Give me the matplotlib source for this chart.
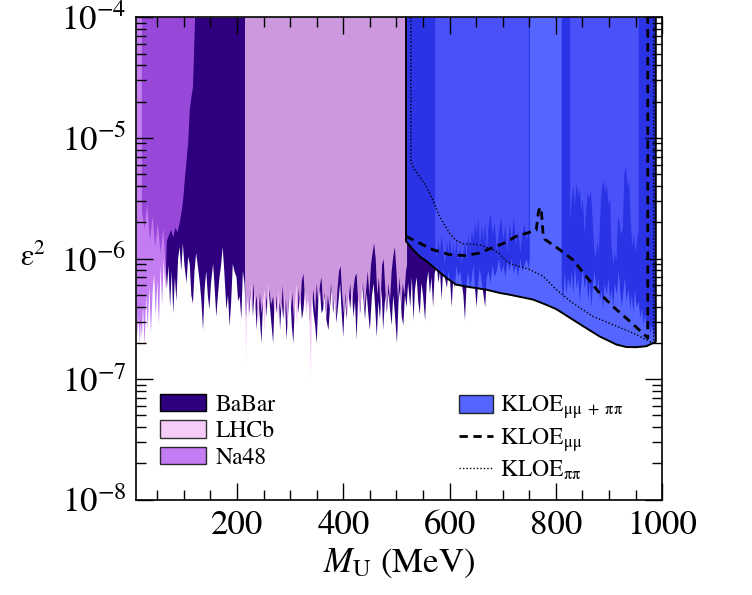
import matplotlib
matplotlib.use('Agg')
import matplotlib.pyplot as plt
import matplotlib.ticker as ticker
from matplotlib.patches import Patch
from matplotlib.lines import Line2D

plt.rcParams['font.family'] = 'serif'
plt.rcParams['font.serif'] = ['STIXGeneral', 'Liberation Serif', 'DejaVu Serif']
plt.rcParams['mathtext.fontset'] = 'stix'

# lower edges of the excluded regions: (mass in MeV, log10 eps^2)
na48_edge = [(10, -6.45), (12, -6.62), (14, -6.48), (16, -6.70), (18, -6.52), (20, -6.66),
             (22, -6.38), (25, -6.72), (28, -6.30), (31, -6.58), (34, -6.22), (37, -6.62),
             (40, -6.28), (43, -6.12), (46, -6.48), (49, -6.18), (52, -6.55), (55, -6.05),
             (58, -6.38), (61, -6.00), (64, -6.25), (67, -5.85), (71, -5.80), (75, -5.76),
             (79, -5.82), (83, -5.74), (87, -5.78), (91, -5.70), (95, -5.60), (98, -5.49),
             (101, -5.32), (104, -5.18), (107, -5.04), (110, -4.77), (113, -4.66),
             (116, -4.58), (118, -4.30), (120, -4.00)]

babar_edge1 = [(20, -5.60), (25, -5.75), (30, -5.55), (35, -5.85), (40, -5.65), (45, -5.90),
               (50, -5.70), (55, -5.95), (60, -5.75), (64, -6.00), (67, -6.25), (70, -6.05),
               (73, -6.40), (76, -6.10), (79, -6.45), (82, -6.15), (85, -6.35), (88, -6.00),
               (91, -5.90), (94, -6.10), (97, -5.87), (100, -6.05), (104, -6.20), (107, -5.98),
               (110, -6.04), (113, -6.30), (116, -6.37), (119, -6.10), (122, -5.95), (125, -6.05),
               (129, -6.20), (132, -6.35), (135, -6.59), (138, -6.25), (141, -6.10), (144, -6.30),
               (147, -6.42), (150, -6.20), (154, -6.04), (157, -6.25), (160, -6.48), (163, -6.30),
               (166, -6.15), (169, -6.05), (172, -5.90), (175, -6.10), (179, -6.42), (182, -6.30),
               (185, -6.56), (188, -6.35), (191, -6.04), (194, -6.10), (198, -6.15), (201, -6.35),
               (204, -6.31), (207, -6.50), (210, -6.10), (213, -6.20),
               (216, -6.50), (219, -6.30), (222, -6.45), (226, -6.20), (229, -6.48), (232, -6.25),
               (236, -6.59), (239, -6.30), (242, -6.50), (245, -6.70), (248, -6.35), (251, -6.25),
               (254, -6.48), (258, -6.20), (261, -6.40), (264, -6.55), (267, -6.70), (270, -6.30),
               (274, -6.45), (277, -6.25), (280, -6.59), (283, -6.35), (286, -6.50), (289, -6.30),
               (292, -6.67), (296, -6.40), (299, -6.25), (302, -6.55), (305, -6.70), (308, -6.35),
               (311, -6.20), (314, -6.45), (318, -6.30), (321, -6.50), (324, -6.42), (327, -6.25),
               (330, -6.40), (333, -6.28), (336, -6.53), (340, -6.30), (343, -6.45), (346, -6.55),
               (349, -6.70), (352, -6.35), (355, -6.25), (358, -6.45), (361, -6.42), (364, -6.30),
               (367, -6.50), (371, -6.59), (374, -6.40), (377, -6.25), (380, -6.45), (383, -6.30),
               (386, -6.53), (390, -6.35), (393, -6.20), (396, -6.45), (399, -6.65), (402, -6.30),
               (405, -6.50), (409, -6.28), (412, -6.42), (415, -6.25), (418, -6.48), (421, -6.35),
               (424, -6.67), (427, -6.30), (431, -6.45), (434, -6.20), (437, -6.34), (440, -6.50),
               (443, -6.28), (446, -6.45), (449, -6.59), (453, -6.30), (456, -6.20), (459, -6.40),
               (462, -6.65), (465, -6.35), (468, -6.50), (471, -6.25), (474, -6.59), (478, -6.30),
               (481, -6.45), (484, -6.28), (487, -6.42), (490, -6.55), (493, -6.30), (496, -6.45),
               (500, -6.70), (503, -6.35), (506, -6.25), (509, -6.48), (512, -6.55), (515, -6.30),
               (518, -6.40), (521, -6.20), (525, -6.40), (528, -6.15), (531, -6.51), (534, -6.25),
               (537, -6.15), (540, -6.35), (543, -6.46), (546, -6.20), (549, -6.30), (553, -6.51),
               (556, -6.20), (559, -6.10), (562, -6.29), (565, -6.15), (568, -6.40), (571, -6.12),
               (575, -6.05), (578, -6.20), (581, -6.10), (584, -6.34), (587, -6.08), (590, -6.15),
               (594, -6.24), (597, -6.10), (600, -6.18), (603, -6.40), (606, -6.15), (609, -6.24),
               (612, -6.05), (615, -6.15), (619, -6.10), (622, -6.20), (625, -6.30), (628, -6.51),
               (631, -6.20), (634, -6.10), (638, -6.25), (641, -6.15), (644, -6.05), (647, -6.25),
               (650, -6.40), (653, -6.18), (656, -6.08), (660, -6.20), (663, -6.30), (666, -6.40),
               (669, -6.15), (672, -6.10), (676, -6.20), (680, -6.05), (684, -6.15), (688, -6.10),
               (692, -6.00), (696, -6.12), (700, -6.05), (704, -6.15), (708, -6.02), (712, -6.10),
               (716, -6.00), (720, -6.12), (724, -6.05), (728, -6.15), (732, -6.00), (736, -6.10),
               (740, -6.05), (744, -6.00), (748, -6.08), (750, -6.00)]

babar_edge2 = [(810, -6.20), (813, -6.35), (816, -6.10), (819, -6.30), (822, -6.15), (826, -6.25),
               (829, -6.10), (832, -6.30), (835, -6.05), (838, -6.25), (841, -6.15), (844, -6.35),
               (847, -6.20), (850, -6.08), (853, -6.25), (857, -6.15), (860, -6.35), (863, -6.20),
               (866, -6.40), (869, -6.22), (872, -6.10), (876, -6.30), (879, -6.15), (882, -6.35),
               (885, -6.25), (888, -6.42), (891, -6.20), (895, -6.30), (898, -6.15), (901, -6.35),
               (904, -6.25), (907, -6.40), (910, -6.20), (914, -6.30), (917, -6.10), (920, -6.25),
               (923, -6.40), (926, -6.28), (929, -6.15), (932, -6.35), (936, -6.25), (939, -6.42),
               (942, -6.30), (945, -6.45), (948, -6.25), (951, -6.40), (955, -6.35), (958, -6.50),
               (961, -6.40), (964, -6.55), (967, -6.45), (970, -6.60), (974, -6.50), (977, -6.62),
               (980, -6.55), (984, -6.65), (987, -6.60)]

lhcb_edge1 = [(214, -6.10), (216, -6.85), (218, -6.30), (221, -6.50), (224, -6.25), (227, -6.45),
              (230, -6.20), (233, -6.40), (236, -6.30), (239, -6.55), (242, -6.28), (245, -6.45),
              (248, -6.35), (251, -6.60), (254, -6.30), (257, -6.42), (260, -6.25), (263, -6.38),
              (267, -6.31), (270, -6.48), (273, -6.30), (276, -6.52), (279, -6.36), (282, -6.44),
              (285, -6.22), (288, -6.50), (291, -6.33), (294, -6.58), (297, -6.30), (300, -6.45),
              (303, -6.28), (306, -6.50), (309, -6.35), (312, -6.55), (315, -6.25), (318, -6.40),
              (321, -6.18), (324, -6.12), (327, -6.35), (330, -6.48), (333, -6.30), (336, -6.60),
              (338, -6.98), (340, -6.40), (343, -6.25), (346, -6.45), (349, -6.20), (352, -6.38),
              (355, -6.22), (358, -6.15), (361, -6.40), (364, -6.28), (367, -6.50), (370, -6.30),
              (373, -6.42), (376, -6.20), (379, -6.45), (382, -6.30), (385, -6.52), (388, -6.25),
              (391, -6.10), (394, -6.06), (397, -6.30), (400, -6.45), (403, -6.28), (406, -6.50),
              (409, -6.35), (412, -6.20), (415, -6.40), (418, -6.25), (421, -6.15), (424, -6.12),
              (427, -6.35), (430, -6.48), (433, -6.30), (436, -6.20), (439, -6.42), (442, -6.25),
              (445, -6.10), (448, -6.30), (451, -6.05), (454, -5.95), (457, -5.87), (460, -6.00),
              (463, -6.30), (466, -6.15), (469, -6.40), (472, -6.05), (475, -6.00), (478, -6.25),
              (481, -6.45), (484, -6.20), (487, -6.35), (490, -6.10), (493, -5.98), (496, -5.90),
              (499, -6.10), (502, -6.35), (505, -6.15), (508, -6.40), (511, -6.20), (514, -6.30),
              (517, -6.10), (519, -6.05)]

lhcb_edge2 = [(572, -5.90), (575, -6.00), (578, -5.85), (581, -5.95), (584, -5.80), (587, -5.92),
              (590, -6.05), (594, -5.85), (597, -5.95), (600, -5.82), (603, -6.00), (606, -5.88),
              (609, -5.98), (612, -5.85), (615, -6.02), (619, -5.90), (622, -6.05), (625, -5.95),
              (628, -5.85), (631, -6.00), (634, -5.80), (638, -5.92), (641, -5.75), (644, -5.85),
              (647, -5.70), (650, -5.80), (653, -5.65), (656, -5.90), (660, -5.72), (663, -5.85),
              (666, -5.68), (669, -5.95), (672, -5.75), (676, -5.62), (680, -5.80), (684, -5.70),
              (688, -5.95), (692, -5.78), (696, -5.65), (700, -5.85), (704, -5.72), (708, -5.95),
              (712, -5.70), (716, -5.85), (720, -5.65), (724, -5.90), (728, -5.75), (732, -5.95),
              (736, -5.80), (740, -5.70), (744, -5.85), (748, -5.75)]

lhcb_edge3 = [(826, -5.70), (829, -5.50), (832, -5.40), (835, -5.55), (838, -5.37), (841, -5.48),
              (844, -5.42), (847, -5.60), (850, -5.50), (853, -5.80), (856, -5.60), (859, -5.45),
              (862, -5.50), (865, -5.43), (868, -5.65), (871, -5.90), (874, -6.00), (877, -5.85),
              (880, -5.95), (883, -5.60), (886, -5.40), (889, -5.35), (892, -5.45), (895, -5.38),
              (898, -5.55), (901, -5.50), (904, -5.90), (907, -6.05), (910, -5.95), (913, -6.02),
              (916, -5.65), (919, -5.70), (922, -5.80), (925, -5.75), (928, -5.30), (931, -5.23),
              (934, -5.40), (937, -5.35), (940, -5.70), (943, -5.90), (946, -5.80), (949, -5.95),
              (952, -5.85), (955, -5.75)]

kloe_edge = [(518, -5.857), (531, -5.926), (543, -5.98), (556, -6.02), (575, -6.09), (594, -6.16),
             (612, -6.216), (631, -6.232), (669, -6.258), (694, -6.285), (713, -6.30), (735, -6.32),
             (757, -6.34), (780, -6.38), (801, -6.42), (826, -6.49), (851, -6.56), (882, -6.645),
             (914, -6.713), (932, -6.733), (950, -6.735), (970, -6.727), (983, -6.70), (988, -6.69)]

kloe_mumu = [(518, -5.816), (543, -5.871), (568, -5.926), (600, -5.968), (631, -5.976),
             (656, -5.954), (681, -5.91), (706, -5.866), (725, -5.816), (745, -5.79),
             (763, -5.765), (767, -5.62), (770, -5.575), (773, -5.62), (776, -5.80),
             (779, -5.84), (807, -5.926), (832, -6.01), (857, -6.147), (882, -6.285),
             (907, -6.396), (939, -6.52), (970, -6.645), (973, -6.66), (973, -4.0)]

kloe_pipi = [(527, -4.0), (527, -5.20), (532, -5.25), (543, -5.319), (556, -5.40), (568, -5.51),
             (581, -5.65), (600, -5.79), (612, -5.85), (625, -5.877), (656, -5.885),
             (681, -5.926), (694, -5.96), (706, -6.02), (719, -6.05), (750, -6.09),
             (776, -6.147), (801, -6.258), (832, -6.37), (870, -6.48), (914, -6.56),
             (945, -6.617), (976, -6.686), (984, -6.70), (984, -4.0)]

c_babar = '#2e0080'
c_lhcb = '#f6bff6'
c_na48 = '#b45bef'
c_kloe = '#2940ff'
top = 1e-4


def unzip(edge):
    xs = [p[0] for p in edge]
    ys = [10 ** p[1] for p in edge]
    return xs, ys


fig = plt.figure(figsize=(7.52, 5.95), dpi=100)
ax = fig.add_axes([0.181, 0.160, 0.6995, 0.811])

for edge in (babar_edge1, babar_edge2):
    x, y = unzip(edge)
    ax.fill_between(x, y, top, color=c_babar, lw=0)
for edge in (lhcb_edge1, lhcb_edge2, lhcb_edge3):
    x, y = unzip(edge)
    ax.fill_between(x, y, top, color=c_lhcb, alpha=0.8, lw=0)
x, y = unzip(na48_edge)
ax.fill_between(x, y, top, color=c_na48, alpha=0.8, lw=0)

# KLOE combined region and its outline
x, y = unzip(kloe_edge)
ax.fill_between(x, y, top, color=c_kloe, alpha=0.8, lw=0)
ax.plot([x[0]] + x + [x[-1]], [top] + y + [top], color='k', lw=1.4)

x, y = unzip(kloe_mumu)
ax.plot(x, y, color='k', lw=2, ls=(0, (3, 2)))
x, y = unzip(kloe_pipi)
ax.plot(x, y, color='k', lw=1, ls=(0, (1, 1.5)))

ax.set_yscale('log')
ax.set_xlim(10, 1000)
ax.set_ylim(1e-8, 1e-4)
ax.xaxis.set_major_locator(ticker.MultipleLocator(200))
ax.xaxis.set_minor_locator(ticker.MultipleLocator(50))
ax.yaxis.set_major_locator(ticker.LogLocator(base=10, numticks=10))
ax.yaxis.set_minor_locator(ticker.LogLocator(base=10, subs=range(2, 10), numticks=10))
ax.yaxis.set_minor_formatter(ticker.NullFormatter())
ax.tick_params(which='both', direction='in', top=True, right=True, width=1, labelsize=25)
ax.tick_params(which='major', length=12, pad=7)
ax.tick_params(which='minor', length=7)
for s in ax.spines.values():
    s.set_linewidth(1.2)

ax.set_xlabel(r'$M_{\rm U}$ (MeV)', fontsize=25, labelpad=4)
ax.set_ylabel('ε$^2$', fontsize=22, rotation=0, labelpad=20, va='center')

leg_kw = dict(loc='upper left', frameon=False, fontsize=17, borderpad=0, borderaxespad=0,
              handleheight=0.76, labelspacing=0.2)
h1 = [Patch(facecolor=c_babar, edgecolor='k', lw=1, label='BaBar'),
      Patch(facecolor=c_lhcb, alpha=0.8, edgecolor='k', lw=1, label='LHCb'),
      Patch(facecolor=c_na48, alpha=0.8, edgecolor='k', lw=1, label='Na48')]
leg1 = ax.legend(handles=h1, bbox_to_anchor=(0.0456, 0.220), handlelength=1.95,
                 handletextpad=0.4, **leg_kw)
ax.add_artist(leg1)
h2 = [Patch(facecolor=c_kloe, alpha=0.8, edgecolor='k', lw=1,
            label=r'KLOE$_{\mathrm{\mu\mu\ +\ \pi\pi}}$'),
      Line2D([], [], color='k', lw=2, ls=(0, (3, 2)), label=r'KLOE$_{\mathrm{\mu\mu}}$'),
      Line2D([], [], color='k', lw=1, ls=(0, (1, 1.5)), label=r'KLOE$_{\mathrm{\pi\pi}}$')]
ax.legend(handles=h2, bbox_to_anchor=(0.614, 0.220), handlelength=1.45,
          handletextpad=0.3, **leg_kw)

fig.savefig('out.png', dpi=100)
